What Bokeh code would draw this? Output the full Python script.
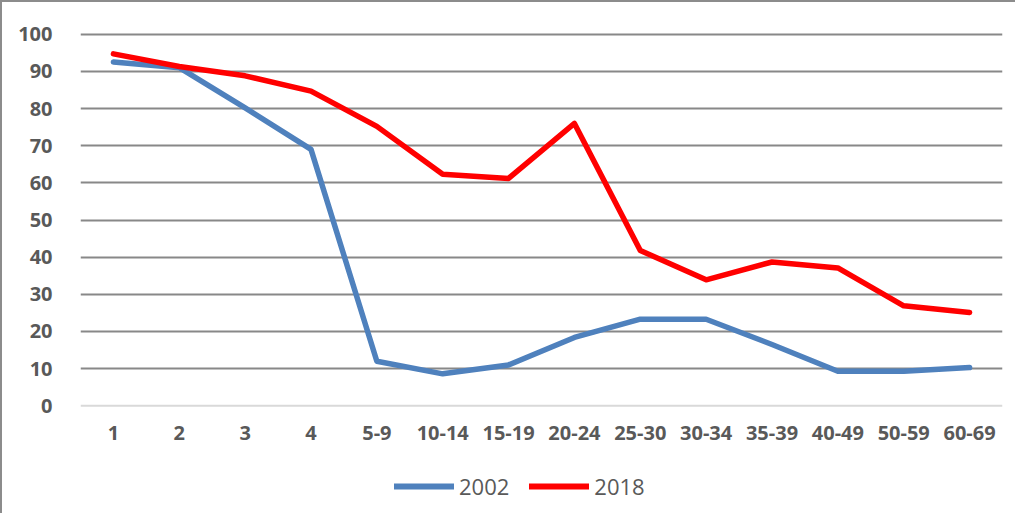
from bokeh.plotting import figure
from bokeh.layouts import column
from bokeh.models import Range1d, FixedTicker, Span, Legend, LegendItem
from bokeh.embed import file_html
from bokeh.resources import INLINE

categories = ["1", "2", "3", "4", "5-9", "10-14", "15-19", "20-24", "25-30",
              "30-34", "35-39", "40-49", "50-59", "60-69"]
values_2002 = [92.5, 91, 80.2, 69, 12, 8.6, 11, 18.4, 23.3, 23.3, 16.5, 9.3, 9.3, 10.3]
values_2018 = [94.7, 91.3, 88.8, 84.7, 75.2, 62.3, 61.2, 76, 41.8, 33.9, 38.7, 37.1, 26.9, 25.1]
y_ticks = [0, 10, 20, 30, 40, 50, 60, 70, 80, 90, 100]
series_names = ["2002", "2018"]
colors = ["#4f81bd", "#ff0000"]

BORDER = "2px solid #8c8c8c"

p = figure(x_range=categories, y_range=Range1d(-1, 101), width=1015, height=452,
           output_backend="svg", toolbar_location=None,
           min_border_left=78, min_border_right=15, min_border_top=28, min_border_bottom=45)
p.x_range.range_padding = 0
p.outline_line_color = None
p.background_fill_color = "white"
p.border_fill_color = "white"
p.styles = {"border-left": BORDER, "border-top": BORDER, "box-sizing": "border-box"}

p.xgrid.grid_line_color = None
p.ygrid.ticker = FixedTicker(ticks=[t for t in y_ticks if t != 0])
p.ygrid.grid_line_color = "#888888"
p.ygrid.grid_line_width = 2
p.add_layout(Span(location=0, dimension="width", line_color="#d9d9d9", line_width=2))

for ax in (p.xaxis[0], p.yaxis[0]):
    ax.axis_line_color = None
    ax.major_tick_line_color = None
    ax.minor_tick_line_color = None
    ax.major_label_text_font = "Open Sans"
    ax.major_label_text_font_style = "bold"
    ax.major_label_text_font_size = "20px"
    ax.major_label_text_color = "#595959"
p.yaxis.ticker = FixedTicker(ticks=y_ticks)
p.yaxis.major_label_standoff = 22
p.xaxis.major_label_standoff = 10

p.line(categories, values_2002, line_color=colors[0], line_width=5.5,
       line_join="round", line_cap="round")
p.line(categories, values_2018, line_color=colors[1], line_width=5.5,
       line_join="round", line_cap="round")

# legend strip below the chart (series drawn out of its view; only the legend shows)
pl = figure(x_range=categories, y_range=Range1d(1000, 1001), width=1015, height=61,
            output_backend="svg", toolbar_location=None,
            min_border_left=0, min_border_right=0, min_border_top=0, min_border_bottom=0)
pl.axis.visible = False
pl.grid.visible = False
pl.outline_line_color = None
pl.background_fill_color = "white"
pl.border_fill_color = "white"
pl.styles = {"border-left": BORDER, "box-sizing": "border-box"}

lr1 = pl.line(categories, values_2002, line_color=colors[0], line_width=6, line_cap="round")
lr2 = pl.line(categories, values_2018, line_color=colors[1], line_width=6, line_cap="round")
legend = Legend(items=[LegendItem(label=series_names[0], renderers=[lr1]),
                       LegendItem(label=series_names[1], renderers=[lr2])],
                orientation="horizontal", location=(314, 12),
                glyph_width=60, glyph_height=20, label_standoff=5, spacing=20,
                padding=0, margin=0, border_line_color=None, background_fill_alpha=0,
                label_text_font="Open Sans", label_text_font_size="22px",
                label_text_color="#595959")
pl.add_layout(legend, "center")

layout = column(p, pl, spacing=0)
open("out.html", "w").write(file_html(layout, INLINE))
